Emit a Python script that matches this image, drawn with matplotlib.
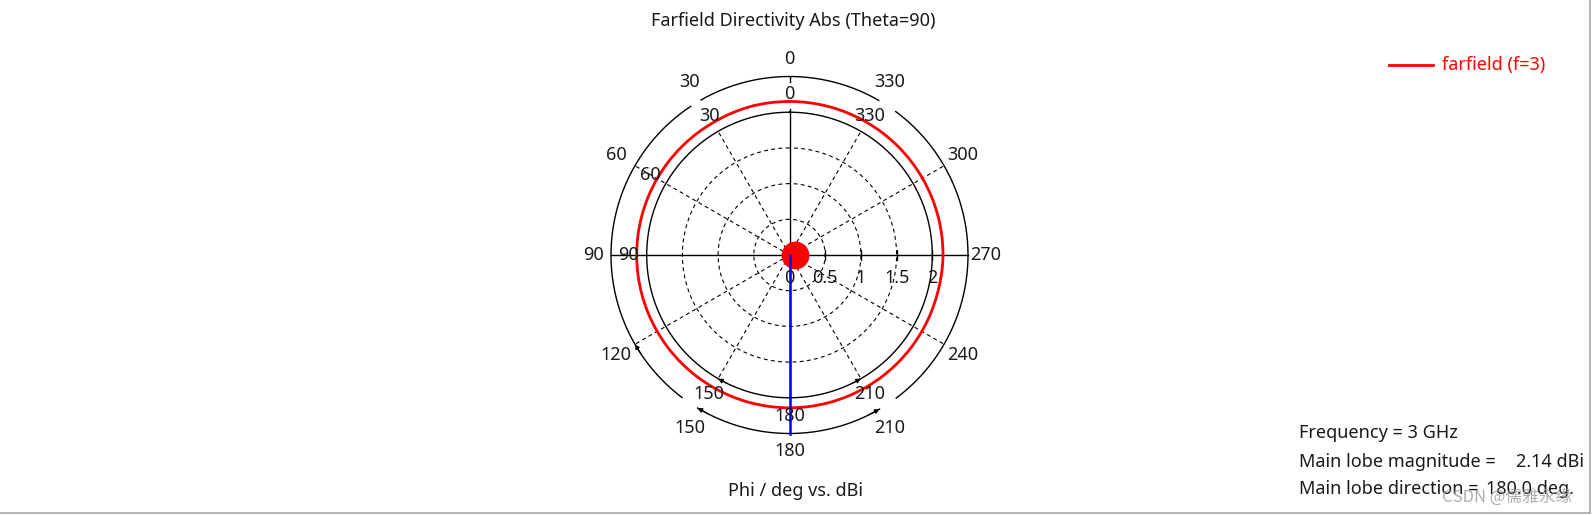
import numpy as np
import matplotlib
matplotlib.use("Agg")
import matplotlib.pyplot as plt
from matplotlib.lines import Line2D

# ---------------- data ----------------
phi_deg = [0, 15, 30, 45, 60, 75, 90, 105, 120, 135, 150, 165, 180,
           195, 210, 225, 240, 255, 270, 285, 300, 315, 330, 345, 360]
directivity_dbi = [2.15, 2.15, 2.14, 2.14, 2.14, 2.14, 2.14, 2.14, 2.14, 2.14, 2.14, 2.14, 2.14,
                   2.14, 2.14, 2.14, 2.14, 2.14, 2.15, 2.15, 2.15, 2.15, 2.15, 2.15, 2.15]
grid_r = [0.5, 1.0, 1.5]
r_ticks = [0, 0.5, 1, 1.5, 2]
r_tick_labels = ["0", "0.5", "1", "1.5", "2"]
inner_angle_labels = [0, 30, 60, 90, 150, 180, 210, 330]
outer_angle_labels = [0, 30, 60, 90, 120, 150, 180, 210, 240, 270, 300, 330]
main_lobe_direction = 180.0
main_lobe_magnitude = 2.14
frequency_ghz = 3
center_blob = (270, 0.08)   # (phi deg, r)

# ---------------- layout ----------------
W, H = 1592, 515
fig = plt.figure(figsize=(W / 100, H / 100), dpi=100)
cx, cy = 789.5, 255.0
ppu = 71.4
rmax = 3.0
rp = rmax * ppu
ax = fig.add_axes([(cx - rp) / W, (H - cy - rp) / H, 2 * rp / W, 2 * rp / H],
                  projection="polar")
ax.set_theta_zero_location("N")
ax.set_theta_direction(1)
ax.set_rlim(0, rmax)
ax.axis("off")

FONT = "Noto Sans"
FS = 13
TC = "#1a1a1a"
R_IN, R_OUT = 2.0, 2.5
d2r = np.deg2rad

t = np.linspace(0, 2 * np.pi, 1441)
# dashed grid circles
for r in grid_r:
    ax.plot(t, np.full_like(t, r), color="k", lw=0.8, ls=(0, (3.5, 3.0)))
# solid r=2 circle
ax.plot(t, np.full_like(t, R_IN), color="k", lw=1.0)

# spokes
for a in [30, 150, 210, 330]:
    ax.plot([d2r(a), d2r(a)], [0, R_IN], color="k", lw=0.8, ls=(0, (3.5, 3.0)))
for a in [60, 120, 240, 300]:
    ax.plot([d2r(a), d2r(a)], [0, R_OUT], color="k", lw=0.8, ls=(0, (3.5, 3.0)))

# axis lines
ax.plot([d2r(90), d2r(90)], [0, R_OUT], color="k", lw=1.0)
ax.plot([d2r(270), d2r(270)], [0, R_OUT], color="k", lw=1.0)
ax.plot([0, 0], [0, 2.04], color="k", lw=1.0)
ax.plot([np.pi, np.pi], [0, 2.04], color="k", lw=1.0)
ax.plot([0, 0], [2.42, R_OUT], color="k", lw=1.0)

# outer ring arcs
for a0, a1 in [(33.6, 143.0), (149.0, 210.3), (216.7, 323.5), (330.0, 389.7)]:
    ta = np.linspace(d2r(a0), d2r(a1), 300)
    ax.plot(ta, np.full_like(ta, R_OUT), color="k", lw=1.0)

# small arrowheads
arrow_kw = dict(arrowstyle="-|>", color="k", lw=0.8, mutation_scale=7,
                shrinkA=0, shrinkB=0)
for tip, tail, r in [(149.0, 153.0, R_OUT), (210.3, 206.3, R_OUT),
                     (120.0, 124.0, R_OUT), (150.0, 154.0, R_IN), (210.0, 206.0, R_IN)]:
    ax.annotate("", xy=(d2r(tip), r), xytext=(d2r(tail), r), arrowprops=arrow_kw)

# radial ticks on horizontal axis (right side)
for r in r_ticks[1:]:
    ax.plot([d2r(270)], [r], marker="|", ms=7, mew=1.0, color="k")

# data curve (segments drawn as arcs by the polar transform)
ln, = ax.plot(d2r(np.array(phi_deg)), directivity_dbi, color="#ff0000", lw=2.0)
ln.get_path()._interpolation_steps = 60
# center blob
ax.plot([d2r(center_blob[0])], [center_blob[1]], marker="o", ms=20,
        color="#ff0000", mew=0)
# main lobe direction line
ax.plot([d2r(main_lobe_direction)] * 2, [0, R_OUT], color="#0000ff", lw=1.8)

# angle labels
for a in inner_angle_labels:
    ax.text(d2r(a), 2.25, str(a), ha="center", va="center", fontsize=FS,
            family=FONT, color=TC)
for a in outer_angle_labels:
    r = 2.74 if a % 180 == 0 else (2.75 if a % 90 == 0 else 2.8)
    ax.text(d2r(a), r, str(a), ha="center", va="center", fontsize=FS,
            family=FONT, color=TC)

# radial tick labels
for r, lbl in zip(r_ticks, r_tick_labels):
    ax.annotate(lbl, xy=(d2r(270), r), xytext=(0, -23), textcoords="offset pixels",
                ha="center", va="center", fontsize=FS, family=FONT, color=TC)

# ---------------- figure texts ----------------
def ft(x, y, s, **kw):
    kw.setdefault("fontsize", FS)
    kw.setdefault("family", FONT)
    kw.setdefault("color", TC)
    kw.setdefault("va", "center")
    fig.text(x / W, 1 - y / H, s, **kw)

ft(793, 20.5, "Farfield Directivity Abs (Theta=90)", ha="center")
ft(795, 491.5, "Phi / deg vs. dBi", ha="center")

fig.add_artist(Line2D([1389 / W, 1433 / W], [1 - 65 / H, 1 - 65 / H],
                      color="#ff0000", lw=2.0))
ft(1442, 65, f"farfield (f={frequency_ghz})", ha="left", color="#ff0000")

ft(1299, 433, f"Frequency = {frequency_ghz} GHz", ha="left")
ft(1299, 462, "Main lobe magnitude =", ha="left")
ft(1584, 462, f"{main_lobe_magnitude:.2f} dBi", ha="right")
ft(1299, 489, "Main lobe direction =", ha="left")
ft(1486, 489, f"{main_lobe_direction:.1f} deg.", ha="left")
ft(1442, 497, "CSDN @儒雅永缘", ha="left", color="#9a9a9a", alpha=0.8,
   family=["Noto Sans CJK SC", "DejaVu Sans"], fontsize=12)

# screenshot frame lines
fig.add_artist(Line2D([0, 1589.5 / W], [1 - 513 / H, 1 - 513 / H], color="#a8a8a8", lw=1.2))
fig.add_artist(Line2D([1589.5 / W, 1589.5 / W], [1 - 513 / H, 1], color="#a8a8a8", lw=1.2))

fig.savefig("out.png", dpi=100, facecolor="white")
